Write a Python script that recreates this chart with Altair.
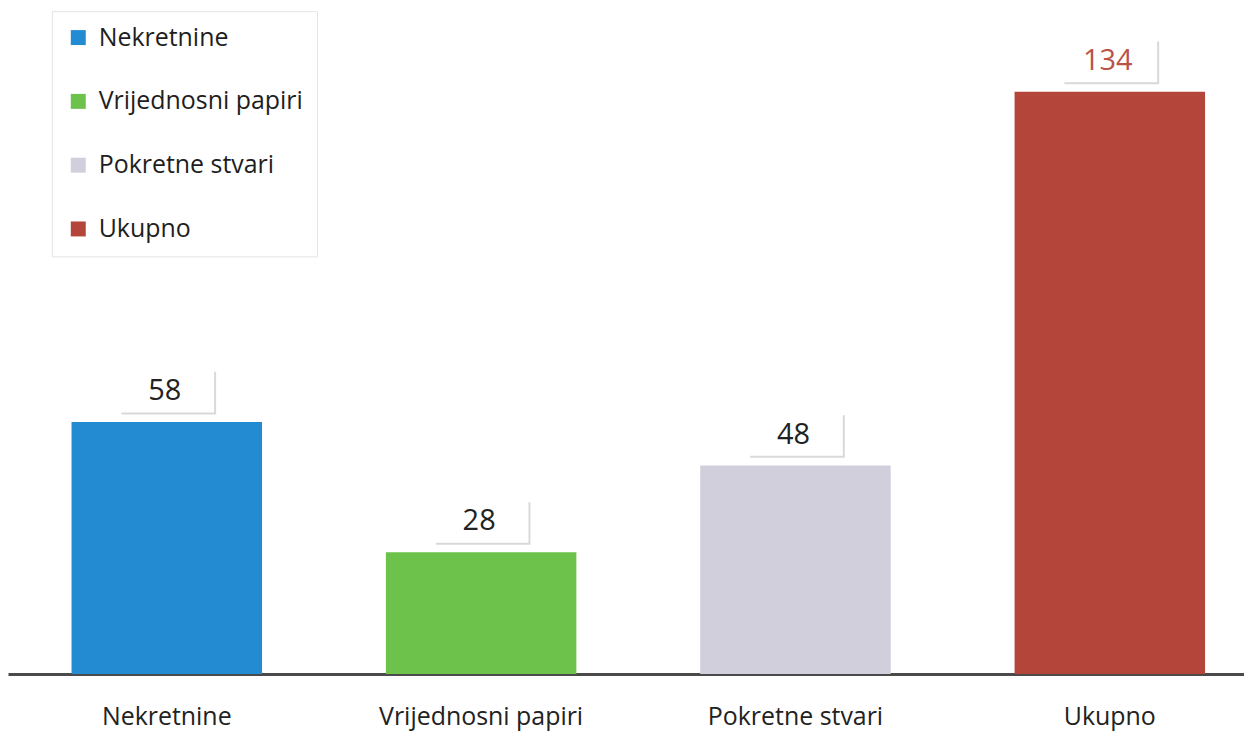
import altair as alt
import pandas as pd

categories = ["Nekretnine", "Vrijednosni papiri", "Pokretne stvari", "Ukupno"]
values = [58, 28, 48, 134]
bar_colors = ["#238bd2", "#6cc24a", "#d2cfdd", "#b3453b"]
label_colors = ["#222222", "#222222", "#222222", "#b9524a"]

df = pd.DataFrame({"cat": categories, "value": values, "lcolor": label_colors})

FONT = "Open Sans"
box_path = "M-1,-0.45L1,-0.45L1,0.45L-1,0.45Z"

x_enc = alt.X(
    "cat:N",
    sort=categories,
    title=None,
    scale=alt.Scale(paddingInner=0.394, paddingOuter=0.163, align=0.62),
    axis=alt.Axis(
        labelAngle=0,
        labelFont=FONT,
        labelFontSize=25,
        labelColor="#222222",
        labelPadding=31,
        ticks=False,
        domainColor="#4a4a4a",
        domainWidth=3,
        grid=False,
        labelLimit=400,
    ),
)
x_plain = alt.X("cat:N", sort=categories)
y_enc = alt.Y("value:Q", scale=alt.Scale(domain=[0, 153], nice=False), axis=None)

base = alt.Chart(df)

bars = base.mark_bar().encode(
    x=x_enc,
    y=y_enc,
    color=alt.Color(
        "cat:N",
        scale=alt.Scale(domain=categories, range=bar_colors),
        legend=alt.Legend(
            title=None,
            orient="none",
            legendX=44,
            legendY=2,
            symbolType="square",
            symbolSize=225,
            symbolStrokeWidth=0,
            labelFont=FONT,
            labelFontSize=25,
            labelColor="#1e1e1e",
            labelOffset=8,
            rowPadding=38,
            padding=14,
            strokeColor="#e4e4e4",
            fillColor="#ffffff",
            labelLimit=400,
        ),
    ),
)

shadow = base.mark_point(
    shape=box_path, size=9025, filled=True, color="#d9d9d9", opacity=1,
    strokeWidth=0, xOffset=2, yOffset=-29,
).encode(x=x_plain, y=y_enc)

box = base.mark_point(
    shape=box_path, size=9025, filled=True, color="#ffffff", opacity=1,
    strokeWidth=0, yOffset=-31,
).encode(x=x_plain, y=y_enc)

labels = base.mark_text(
    font=FONT, fontSize=29, fontWeight=500, baseline="middle", dy=-31, dx=-2
).encode(
    x=x_plain,
    y=y_enc,
    text=alt.Text("value:Q"),
    color=alt.Color("lcolor:N", scale=None),
)

chart = (
    alt.layer(bars, shadow, box, labels)
    .properties(width=1240, height=667, padding=0, background="#ffffff")
    .configure_view(stroke=None)
)

chart.save("out.html", embed_options={"renderer": "svg", "actions": False})
